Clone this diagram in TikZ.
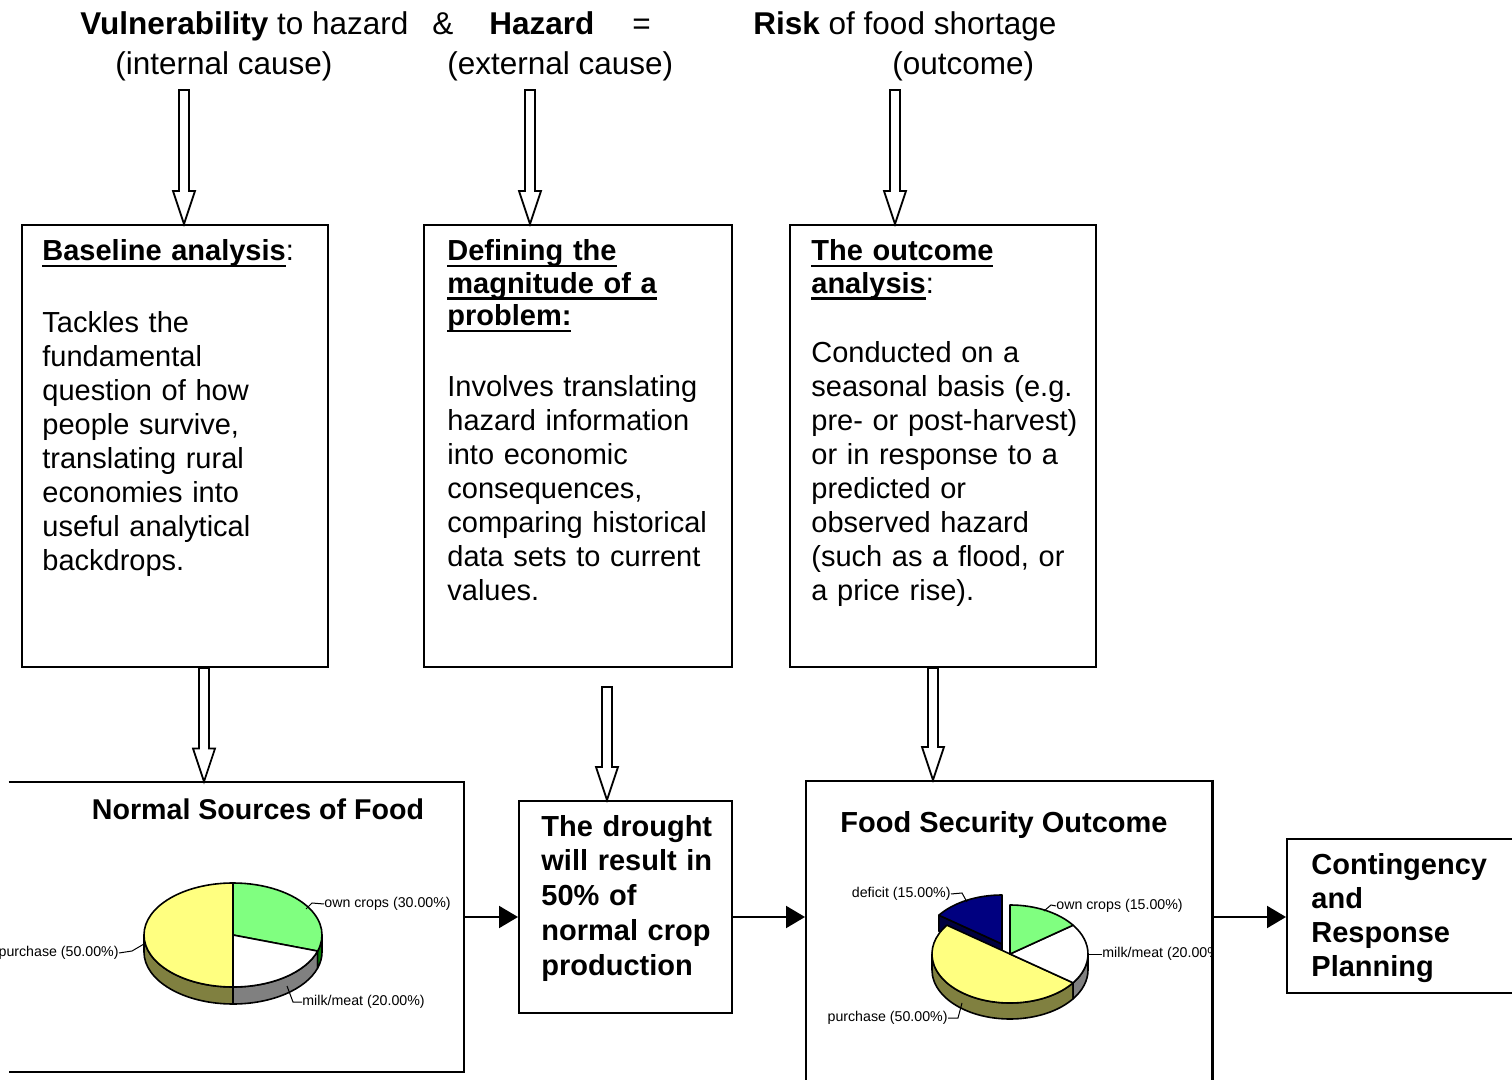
\documentclass[tikz,border=0pt]{standalone}
\usepackage{fontspec}
\setmainfont{Liberation Sans}
\usetikzlibrary{calc,arrows.meta}
\definecolor{pgreen}{HTML}{80FF80}
\definecolor{pyellow}{HTML}{FFFF80}
\definecolor{polive}{HTML}{808040}
\definecolor{pgray}{HTML}{808080}
\definecolor{pdkgreen}{HTML}{008000}
\definecolor{pnavy}{HTML}{000080}
\definecolor{pnavyside}{HTML}{000040}
\newsavebox\myulbox
\newcommand{\uln}[1]{\leavevmode\sbox\myulbox{#1}\rlap{\rule[-3.2pt]{\wd\myulbox}{1.4pt}}\usebox\myulbox}
\newcommand{\hollowarrow}[2]{%
  \draw[hollow] ($(#1)+(-5,0)$) -- ($(#2)+(-5,-33)$) -- ($(#2)+(-11,-33)$) -- (#2)
    -- ($(#2)+(11,-33)$) -- ($(#2)+(5,-33)$) -- ($(#1)+(5,0)$) -- cycle;}
\begin{document}
\begin{tikzpicture}[x=0.5pt,y=-0.5pt,
  box/.style={draw, line width=1pt, inner sep=0pt},
  hollow/.style={draw, line width=0.9pt, fill=white, line join=miter},
  arr/.style={line width=1pt, -{Triangle[length=9.5pt,width=11pt]}},
  ttl/.style={font=\fontsize{15.75pt}{19pt}\selectfont, inner sep=0pt, anchor=base west},
  hd/.style={font=\bfseries\fontsize{14.5pt}{16.25pt}\selectfont, inner sep=0pt, anchor=base west, text width=150pt, align=left},
  bd/.style={font=\fontsize{14.5pt}{16.95pt}\selectfont, inner sep=0pt, anchor=base west, text width=150pt, align=left},
  bb/.style={font=\bfseries\fontsize{14.5pt}{17.4pt}\selectfont, inner sep=0pt, anchor=base west, text width=120pt, align=left},
  lbl/.style={font=\fontsize{7.1pt}{8pt}\selectfont, inner sep=0pt},
  ldr/.style={line width=0.5pt},
  pie/.style={draw, line width=0.8pt, line join=round}]
\useasboundingbox (0,0) rectangle (1512,1080);
\clip (0,0) rectangle (1512,1080);

% title
\node[ttl] (t1) at (80,35) {\textbf{Vulnerability} to hazard};
\node[ttl] (t2) at (432,35) {\&};
\node[ttl] (t3) at (489,35) {\textbf{Hazard}};
\node[ttl] (t4) at (632,35) {=};
\node[ttl] (t5) at (753,35) {\textbf{Risk} of food shortage};
\node[ttl] (t6) at (115,75) {(internal cause)};
\node[ttl] (t7) at (447,75) {(external cause)};
\node[ttl] (t8) at (892,75) {(outcome)};

% upper boxes
\node[box, minimum width=153pt, minimum height=221pt] (b1) at (175,446) {};
\node[box, minimum width=154pt, minimum height=221pt] (b2) at (578,446) {};
\node[box, minimum width=153pt, minimum height=221pt] (b3) at (943,446) {};

\node[hd] (h1) at (42,261) {\uln{Baseline analysis}\textmd{:}};
\node[bd] (x1) at (42,333) {Tackles the\\fundamental\\question of how\\people survive,\\translating rural\\economies into\\useful analytical\\backdrops.};
\node[hd] (h2) at (447,261) {\uln{Defining the}\\\uln{magnitude of a}\\\uln{problem:}};
\node[bd] (x2) at (447,397) {Involves translating\\hazard information\\into economic\\consequences,\\comparing historical\\data sets to current\\values.};
\node[hd] (h3) at (811,261) {\uln{The outcome}\\\uln{analysis}\textmd{:}};
\node[bd] (x3) at (811,363) {Conducted on a\\seasonal basis (e.g.\\pre- or post-harvest)\\or in response to a\\predicted or\\observed hazard\\(such as a flood, or\\a price rise).};

% top hollow arrows
\coordinate (a1) at (184,90);
\coordinate (a2) at (530,90);
\coordinate (a3) at (895,90);
\coordinate (e1) at (a1 |- b1.north);
\coordinate (e2) at (a2 |- b2.north);
\coordinate (e3) at (a3 |- b3.north);
\hollowarrow{a1}{e1}
\hollowarrow{a2}{e2}
\hollowarrow{a3}{e3}

% lower boxes
\node[inner sep=0pt, minimum width=237pt, minimum height=145pt] (nsf) at (227,927) {};
\draw[line width=1pt] ([xshift=9.5pt]nsf.north west) -- (nsf.north east) -- (nsf.south east) -- ([xshift=9.5pt]nsf.south west);
\node[box, minimum width=106.5pt, minimum height=106pt] (dr) at (625.5,907) {};
\node[box, minimum width=203pt, minimum height=164.5pt] (fso) at (1009,945.5) {};
\node[box, minimum width=126.5pt, minimum height=77pt] (cr) at (1413.5,916) {};

\node[font=\bfseries\fontsize{14.3pt}{16pt}\selectfont, inner sep=0pt] (nsft) at (258,809) {Normal Sources of Food};
\node[font=\bfseries\fontsize{14.5pt}{16pt}\selectfont, inner sep=0pt, anchor=base] (fsot) at (1004,833) {Food Security Outcome};
\node[bb] (drt) at (541,836) {The drought\\will result in\\50\% of\\normal crop\\production};
\node[bb, font=\bfseries\fontsize{14.5pt}{16.85pt}\selectfont] (crt) at (1311,875) {Contingency\\and\\Response\\Planning};

% lower hollow arrows
\coordinate (c1x) at (204,0);
\coordinate (c1) at (c1x |- b1.south);
\coordinate (d1) at (c1x |- nsf.north);
\coordinate (c2) at (607,687);
\coordinate (d2) at (c2 |- dr.north);
\coordinate (c3x) at (933,0);
\coordinate (c3) at (c3x |- b3.south);
\coordinate (d3) at (c3x |- fso.north);
\hollowarrow{c1}{d1}
\hollowarrow{c2}{d2}
\hollowarrow{c3}{d3}

% horizontal arrows
\coordinate (hy) at (0,917);
\draw[arr] (nsf.east |- hy) -- (dr.west |- hy);
\draw[arr] (dr.east |- hy) -- (fso.west |- hy);
\draw[arr] (fso.east |- hy) -- (cr.west |- hy);

% pie 1
\begin{scope}[shift={(233,935)}]
  \def\rx{44.5pt}\def\ry{26pt}
  \filldraw[pie, fill=polive] (180:44.5pt and 26pt) arc[start angle=180,end angle=270,x radius=\rx,y radius=\ry] -- ++(0pt,-8.5pt) arc[start angle=270,end angle=180,x radius=\rx,y radius=\ry] -- cycle;
  \filldraw[pie, fill=pgray] (270:44.5pt and 26pt) arc[start angle=270,end angle=342,x radius=\rx,y radius=\ry] -- ++(0pt,-8.5pt) arc[start angle=342,end angle=270,x radius=\rx,y radius=\ry] -- cycle;
  \filldraw[pie, fill=pdkgreen] (342:44.5pt and 26pt) arc[start angle=342,end angle=360,x radius=\rx,y radius=\ry] -- ++(0pt,-8.5pt) arc[start angle=360,end angle=342,x radius=\rx,y radius=\ry] -- cycle;
  \filldraw[pie, fill=pgreen] (0,0) -- (90:44.5pt and 26pt) arc[start angle=90,end angle=-18,x radius=\rx,y radius=\ry] -- cycle;
  \filldraw[pie, fill=white] (0,0) -- (-18:44.5pt and 26pt) arc[start angle=-18,end angle=-90,x radius=\rx,y radius=\ry] -- cycle;
  \filldraw[pie, fill=pyellow] (0,0) -- (-90:44.5pt and 26pt) arc[start angle=-90,end angle=-270,x radius=\rx,y radius=\ry] -- cycle;
\end{scope}
\node[lbl, anchor=west] (l1a) at (324,904) {own crops (30.00\%)};
\node[lbl, anchor=west] (l1b) at (302,1002) {milk/meat (20.00\%)};
\node[lbl, anchor=east] (l1c) at (119,953) {purchase (50.00\%)};
\coordinate (p1a) at (306,909);
\coordinate (p1b) at (287,986);
\coordinate (p1c) at (144,944);
\draw[ldr] (p1a) -- (312,903) -- (l1a.west);
\draw[ldr] (p1b) -- (293,1002) -- (l1b.west);
\draw[ldr] (p1c) -- (132,951) -- (l1c.east);

% pie 2
\begin{scope}[shift={(1010,954)}]
  \def\rx{39pt}\def\ry{24.5pt}
  \begin{scope}[shift={(-4pt,5pt)}]
    \filldraw[pie, fill=pnavyside] (0,0) -- (144:39pt and 24.5pt) -- ++(0pt,-8pt) -- (0pt,-8pt) -- cycle;
    \filldraw[pie, fill=pnavy] (0,0) -- (144:39pt and 24.5pt) arc[start angle=144,end angle=90,x radius=\rx,y radius=\ry] -- cycle;
  \end{scope}
  \filldraw[pie, fill=polive] (180:39pt and 24.5pt) arc[start angle=180,end angle=324,x radius=\rx,y radius=\ry] -- ++(0pt,-8pt) arc[start angle=324,end angle=180,x radius=\rx,y radius=\ry] -- cycle;
  \filldraw[pie, fill=pgray] (324:39pt and 24.5pt) arc[start angle=324,end angle=360,x radius=\rx,y radius=\ry] -- ++(0pt,-8pt) arc[start angle=360,end angle=324,x radius=\rx,y radius=\ry] -- cycle;
  \filldraw[pie, fill=pyellow] (0,0) -- (-36:39pt and 24.5pt) arc[start angle=-36,end angle=-216,x radius=\rx,y radius=\ry] -- cycle;
  \filldraw[pie, fill=white] (0,0) -- (36:39pt and 24.5pt) arc[start angle=36,end angle=-36,x radius=\rx,y radius=\ry] -- cycle;
  \filldraw[pie, fill=pgreen] (0,0) -- (90:39pt and 24.5pt) arc[start angle=90,end angle=36,x radius=\rx,y radius=\ry] -- cycle;
\end{scope}
\node[lbl, anchor=east] (l2a) at (951,894) {deficit (15.00\%)};
\node[lbl, anchor=west] (l2b) at (1056,906) {own crops (15.00\%)};
\node[lbl, anchor=east] (l2d) at (948,1018) {purchase (50.00\%)};
\begin{scope}
  \clip (806,781) rectangle (1211,1080);
  \node[lbl, anchor=west] (l2c) at (1102,954) {milk/meat (20.00\%)};
\end{scope}
\coordinate (p2a) at (967,902);
\coordinate (p2b) at (1044,911);
\coordinate (p2c) at (1087,954);
\coordinate (p2d) at (962,1003);
\draw[ldr] (p2a) -- (962,893) -- (l2a.east);
\draw[ldr] (p2b) -- (1051,905) -- (l2b.west);
\draw[ldr] (p2c) -- (l2c.west);
\draw[ldr] (p2d) -- (958,1018) -- (l2d.east);
\draw[line width=1pt] (fso.north east) -- (fso.south east);
\end{tikzpicture}
\end{document}
